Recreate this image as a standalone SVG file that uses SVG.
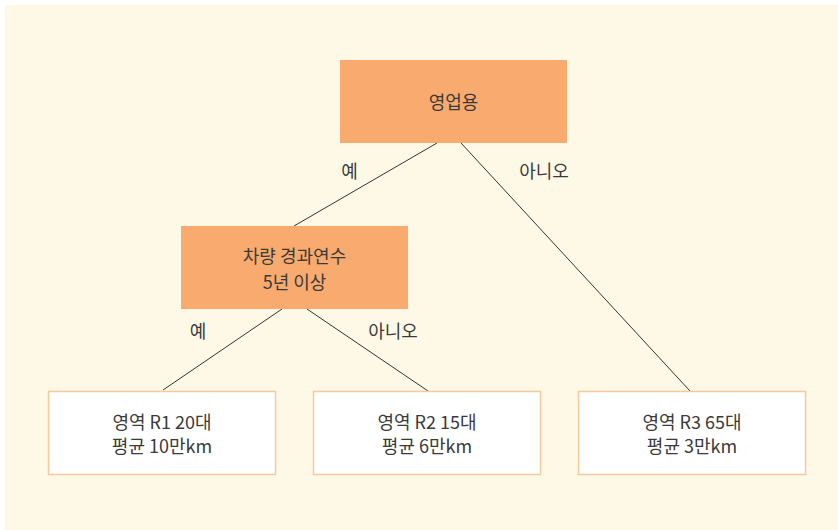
<svg xmlns="http://www.w3.org/2000/svg" width="838" height="530" viewBox="0 0 838 530">
<style>
text{font-family:"Noto Sans CJK KR","Noto Sans",sans-serif;font-size:18px;fill:#3a3a3a;text-anchor:middle;dominant-baseline:central}
.dec{fill:#f9aa6e}
.leaf{fill:#ffffff;stroke:#fcc89b;stroke-width:1.5}
.edge{stroke:#333333;stroke-width:1;fill:none}
</style>
<rect x="5" y="5" width="833" height="525" fill="#fef8e7"/>
<g id="connectors">
<line class="edge" x1="437" y1="143" x2="294" y2="226"/>
<line class="edge" x1="461" y1="143" x2="690" y2="391"/>
<line class="edge" x1="282" y1="309" x2="163" y2="390"/>
<line class="edge" x1="307" y1="309" x2="428" y2="391"/>
<text x="349.5" y="170">예</text>
<text x="544" y="170">아니오</text>
<text x="198" y="330">예</text>
<text x="393" y="330">아니오</text>
</g>
<g id="node-business">
<rect class="dec" x="340" y="60" width="227" height="83"/>
<text x="453.5" y="101">영업용</text>
</g>
<g id="node-age">
<rect class="dec" x="181" y="226" width="227" height="83"/>
<text x="294.5" y="255">차량 경과연수</text>
<text x="294.5" y="281">5년 이상</text>
</g>
<g id="node-r1">
<rect class="leaf" x="48.5" y="391.5" width="227" height="83"/>
<text x="162" y="420.5">영역 R1 20대</text>
<text x="162" y="444.5">평균 10만km</text>
</g>
<g id="node-r2">
<rect class="leaf" x="313.5" y="391.5" width="227" height="83"/>
<text x="427" y="420.5">영역 R2 15대</text>
<text x="427" y="444.5">평균 6만km</text>
</g>
<g id="node-r3">
<rect class="leaf" x="578.5" y="391.5" width="227" height="83"/>
<text x="692" y="420.5">영역 R3 65대</text>
<text x="692" y="444.5">평균 3만km</text>
</g>
</svg>
